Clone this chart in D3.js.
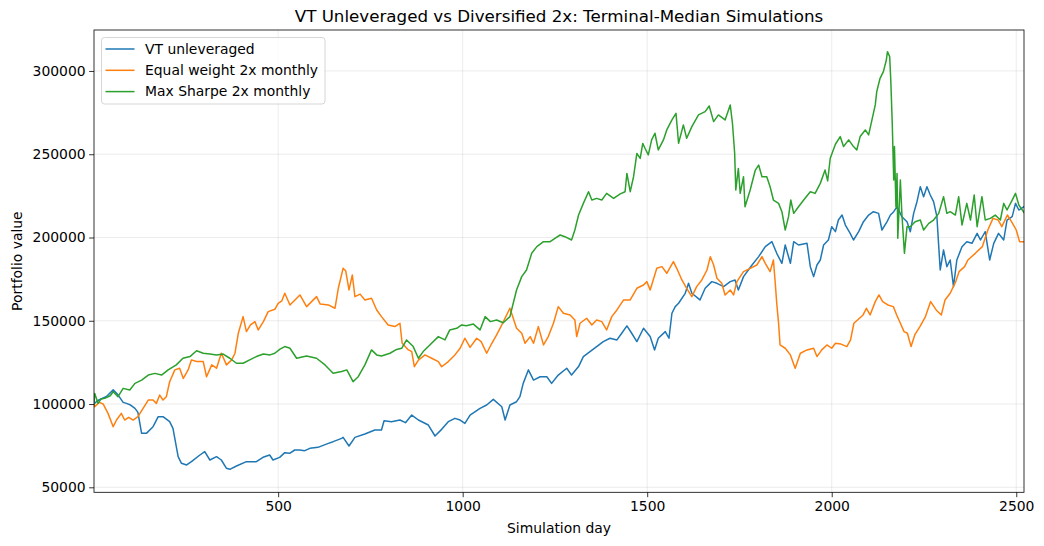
<!DOCTYPE html>
<html>
<head>
<meta charset="utf-8">
<script src="https://cdn.jsdelivr.net/npm/d3@7"></script>
<style>
  html, body { margin: 0; padding: 0; background: #fff; }
  svg { display: block; font-family: "DejaVu Sans", sans-serif; }
</style>
</head>
<body>
<svg id="chart" width="1044" height="546"></svg>
<script>
const title = "VT Unleveraged vs Diversified 2x: Terminal-Median Simulations";
const xLabel = "Simulation day";
const yLabel = "Portfolio value";
const seriesNames = ["VT unleveraged", "Equal weight 2x monthly", "Max Sharpe 2x monthly"];
const xTicks = [500, 1000, 1500, 2000, 2500];
const yTicks = [50000, 100000, 150000, 200000, 250000, 300000];

const vtDays = [1,10,20,35,53,66,80,89,100,112,120,130,143,161,175,188,206,215,229,238,252,265,288,301,315,333,346,360,369,387,414,441,459,477,486,504,518,531,545,558,572,586,608,636,649,672,676,692,708,735,762,780,787,807,830,845,862,880,907,925,943,961,979,993,1006,1020,1047,1065,1083,1106,1115,1128,1146,1155,1164,1178,1192,1210,1228,1241,1259,1282,1295,1314,1327,1345,1363,1381,1399,1418,1431,1445,1458,1472,1490,1508,1520,1530,1549,1559,1567,1576,1585,1603,1612,1621,1643,1657,1675,1689,1707,1725,1738,1747,1761,1784,1802,1820,1838,1851,1865,1874,1888,1897,1910,1933,1942,1951,1960,1969,1978,1991,2000,2010,2018,2028,2037,2050,2059,2073,2086,2100,2113,2127,2136,2150,2159,2168,2177,2190,2204,2213,2222,2231,2240,2249,2258,2267,2276,2285,2290,2294,2303,2312,2321,2330,2339,2353,2366,2380,2394,2403,2416,2428,2439,2452,2466,2475,2489,2498,2507,2521];
const vtValues = [100000,102000,103000,104500,108500,105500,101000,100400,99400,97400,95000,82400,82400,86400,92400,92400,89400,85400,68400,64400,63400,65400,69400,71400,66400,68400,66400,61400,60800,62800,65400,65400,68000,69400,66400,68000,70800,70400,72400,72400,72000,73400,74000,76400,77400,79400,80000,74800,80000,82000,84400,84400,90000,89400,90400,88800,93400,90400,87400,80800,84800,89400,91400,90400,88400,93400,97400,99400,102800,98400,90400,99400,101400,104400,112400,120500,114400,116400,116400,112400,117400,121500,117400,122500,128500,131500,134500,137500,139500,138500,142500,146900,142500,137500,145500,140500,132500,139500,143500,139500,154500,158500,160500,166500,172500,166500,162500,169500,173500,172500,170500,173500,174500,168500,176500,183500,188500,194500,197500,190500,184500,195500,184500,197500,195500,196500,182500,176500,183500,186500,195500,198500,206500,203500,210500,213500,207500,202500,198500,203500,209500,213500,215500,214500,204500,209500,213500,215500,218500,212500,209500,203500,214500,221500,230500,224500,230500,225500,221500,212500,194500,180500,192500,182500,186500,170500,186500,194500,197500,196500,202500,198500,203500,186500,196500,202500,198500,210500,212500,220500,216500,218500];

const ewDays = [1,3,15,26,39,53,62,75,84,95,107,120,134,148,161,170,179,188,197,206,220,233,243,256,265,279,297,306,320,333,346,360,374,383,392,405,414,425,437,446,460,473,491,500,510,518,532,559,577,604,614,636,654,663,676,683,692,701,708,722,735,753,767,780,798,816,830,836,853,862,869,880,898,916,934,943,961,979,993,1006,1020,1038,1050,1065,1079,1092,1106,1128,1137,1146,1160,1169,1183,1192,1205,1219,1232,1246,1259,1273,1291,1304,1309,1318,1336,1350,1363,1377,1390,1404,1418,1436,1454,1472,1490,1499,1508,1526,1540,1553,1571,1580,1594,1607,1621,1634,1648,1662,1671,1680,1689,1702,1711,1725,1734,1743,1761,1779,1797,1811,1820,1833,1842,1847,1851,1856,1860,1874,1888,1901,1915,1933,1951,1960,1973,1987,2000,2010,2025,2041,2051,2060,2070,2085,2094,2104,2118,2128,2138,2152,2167,2176,2186,2196,2205,2215,2225,2239,2254,2268,2283,2297,2307,2321,2336,2345,2360,2369,2389,2408,2423,2437,2451,2461,2476,2490,2500,2509,2521];
const ewValues = [100000,98400,101000,100000,94400,86400,90400,94400,90400,92000,90400,92400,97400,102400,102400,100400,105400,102400,104400,113400,120500,121500,115400,120500,126500,125500,125500,116400,123500,121500,130500,123500,126500,130500,142500,152500,143500,147500,149500,144500,149500,155500,156900,160500,162000,166500,159500,165500,158500,164500,160000,159500,157500,169500,181500,180000,168500,177500,164500,166000,162500,163500,156500,152500,147500,146500,148500,136500,132500,131500,122400,126400,129500,127500,125500,122400,125500,129500,133500,139500,134000,139500,137500,130500,136500,141500,147500,157500,151500,145500,142500,136500,140500,136500,146500,135500,140500,148500,158500,154500,153500,150500,140500,148500,151500,147500,150500,149500,144500,152500,156500,162500,162500,169500,171500,173500,168500,181500,182500,178500,185500,181500,174500,169500,164500,170500,174500,180500,188500,183500,175500,172500,165500,168500,165500,173500,179500,181500,183500,188500,184500,179500,186500,172500,160500,148500,135500,133500,129500,121500,130500,132500,133500,128500,132500,135500,133500,136500,136000,134500,138500,148500,150500,153500,157500,153500,161500,165500,161500,159500,158500,153500,148500,143500,142500,134500,141500,146500,152500,161500,156500,153500,162500,166500,173500,179500,182500,186500,190500,194500,204500,211500,210500,206500,213500,208500,204500,197500,197500];

const msDays = [1,3,12,20,30,45,53,66,80,98,112,130,148,166,184,202,224,242,261,279,297,315,333,351,369,387,405,423,441,460,478,491,505,518,532,550,577,604,627,649,672,686,703,717,735,753,767,780,803,821,835,848,866,880,893,911,934,952,965,984,997,1010,1029,1047,1061,1075,1092,1110,1128,1137,1146,1160,1173,1187,1201,1219,1237,1250,1264,1277,1295,1304,1314,1327,1341,1350,1363,1377,1390,1409,1427,1440,1445,1454,1463,1472,1481,1488,1494,1503,1512,1521,1530,1544,1553,1567,1578,1585,1598,1607,1621,1639,1657,1668,1680,1693,1711,1725,1731,1737,1740,1747,1752,1761,1765,1779,1793,1802,1811,1824,1833,1842,1856,1865,1874,1883,1889,1897,1910,1924,1942,1955,1969,1982,1989,1996,2010,2023,2032,2046,2059,2068,2077,2091,2100,2109,2118,2122,2131,2140,2148,2151,2157,2160,2164,2168,2170,2174,2177,2179,2186,2190,2197,2204,2213,2226,2240,2249,2263,2276,2290,2303,2312,2321,2335,2344,2353,2366,2376,2386,2394,2407,2416,2430,2443,2457,2466,2475,2489,2498,2507,2521];
const msValues = [100000,106400,100400,103000,103400,105000,107400,104400,109400,108400,112400,114400,117400,118400,117400,120500,123500,127500,128500,132000,130500,130000,129500,130000,127500,124500,124500,126500,128500,130000,129500,130500,133000,134500,133500,127500,128800,127500,123500,118500,119500,120500,113400,116400,123500,132500,129500,128800,130500,132800,133500,138500,134500,127500,131500,135500,140500,138500,144500,145500,147500,147000,148000,144500,152500,149500,150500,148800,152500,160500,168500,176500,180500,190500,194500,197500,197500,199500,201500,200500,198500,204500,213500,220500,227500,222500,223500,222500,226500,223500,226200,227500,238500,227500,236500,250500,247500,256500,253600,249600,258600,262600,252600,258600,264600,270600,274600,256600,267600,259600,266600,273600,275600,279000,269600,273600,270600,279600,268600,250600,228500,241500,226500,236500,218500,228500,240500,243500,236500,236500,230500,222500,220500,215500,204500,212500,222500,214500,218500,222500,227500,226500,232500,240500,234000,247600,256000,260600,254600,258600,254600,252600,260600,264600,261600,270600,279600,287600,295600,299600,306600,311600,308600,294600,268600,234500,254600,218500,238500,199500,234500,214500,190500,206500,206500,209500,210500,204500,208500,210500,214500,224500,214500,215500,213500,224500,207500,220500,210500,225500,206500,224500,210500,211500,213500,210500,220500,216500,222500,226500,219500,215000];

const colors = ["#1f77b4", "#ff7f0e", "#2ca02c"];
const seriesList = [
  {name: seriesNames[0], days: vtDays, values: vtValues, color: colors[0]},
  {name: seriesNames[1], days: ewDays, values: ewValues, color: colors[1]},
  {name: seriesNames[2], days: msDays, values: msValues, color: colors[2]}
];

const svg = d3.select("#chart");
const plotL = 94, plotT = 30, plotR = 1024, plotB = 492.3;
const x = d3.scaleLinear().domain([1, 2521]).range([plotL, plotR]);
const y = d3.scaleLinear().domain([47000, 324600]).range([plotB, plotT]);

svg.append("defs").append("clipPath").attr("id", "clip")
  .append("rect").attr("x", plotL).attr("y", plotT).attr("width", plotR - plotL).attr("height", plotB - plotT);

// grid
const grid = svg.append("g");
grid.selectAll(".gx").data(xTicks).enter().append("line")
  .attr("x1", d => x(d)).attr("x2", d => x(d)).attr("y1", plotT).attr("y2", plotB)
  .attr("stroke", "#b0b0b0").attr("stroke-opacity", 0.3).attr("stroke-width", 0.8);
grid.selectAll(".gy").data(yTicks).enter().append("line")
  .attr("x1", plotL).attr("x2", plotR).attr("y1", d => y(d)).attr("y2", d => y(d))
  .attr("stroke", "#b0b0b0").attr("stroke-opacity", 0.3).attr("stroke-width", 0.8);

// lines
const lineGen = d3.line().x(d => x(d[0])).y(d => y(d[1]));
const linesG = svg.append("g").attr("clip-path", "url(#clip)");
seriesList.forEach(s => {
  const pts = s.days.map((d, i) => [d, s.values[i]]);
  linesG.append("path").datum(pts).attr("d", lineGen)
    .attr("fill", "none").attr("stroke", s.color).attr("stroke-width", 1.5)
    .attr("stroke-linejoin", "round").attr("stroke-linecap", "square");
});

// axes
const xAxis = d3.axisBottom(x).tickValues(xTicks).tickSize(4.9).tickPadding(3.5).tickFormat(d3.format("d"));
const yAxis = d3.axisLeft(y).tickValues(yTicks).tickSize(4.9).tickPadding(3.5).tickFormat(d3.format("d"));
const gx = svg.append("g").attr("transform", `translate(0,${plotB})`).call(xAxis);
const gy = svg.append("g").attr("transform", `translate(${plotL},0)`).call(yAxis);
[gx, gy].forEach(g => {
  g.select(".domain").remove();
  g.selectAll(".tick line").attr("stroke", "#000").attr("stroke-width", 0.8);
  g.selectAll(".tick text").attr("fill", "#000").style("font-size", "13.9px").style("font-family", "DejaVu Sans");
});

// frame
svg.append("rect").attr("x", plotL).attr("y", plotT).attr("width", plotR - plotL).attr("height", plotB - plotT)
  .attr("fill", "none").attr("stroke", "#000").attr("stroke-width", 0.8);

// title & labels
svg.append("text").attr("x", (plotL + plotR) / 2).attr("y", 22).attr("text-anchor", "middle")
  .style("font-size", "16.7px").text(title);
svg.append("text").attr("x", (plotL + plotR) / 2).attr("y", 533).attr("text-anchor", "middle")
  .style("font-size", "13.9px").text(xLabel);
svg.append("text").attr("transform", `translate(22,${(plotT + plotB) / 2}) rotate(-90)`).attr("text-anchor", "middle")
  .style("font-size", "13.9px").text(yLabel);

// legend
const lg = svg.append("g");
lg.append("rect").attr("x", 101.5).attr("y", 37.5).attr("width", 223.5).attr("height", 66.5).attr("rx", 3)
  .attr("fill", "#fff").attr("fill-opacity", 0.8).attr("stroke", "#cccccc").attr("stroke-width", 0.8);
seriesList.forEach((s, i) => {
  const yy = 49 + i * 21.3;
  lg.append("line").attr("x1", 105.5).attr("x2", 134.5).attr("y1", yy).attr("y2", yy)
    .attr("stroke", s.color).attr("stroke-width", 1.5);
  lg.append("text").attr("x", 145).attr("y", yy).attr("dy", "0.35em")
    .style("font-size", "13.9px").text(s.name);
});
</script>
</body>
</html>
